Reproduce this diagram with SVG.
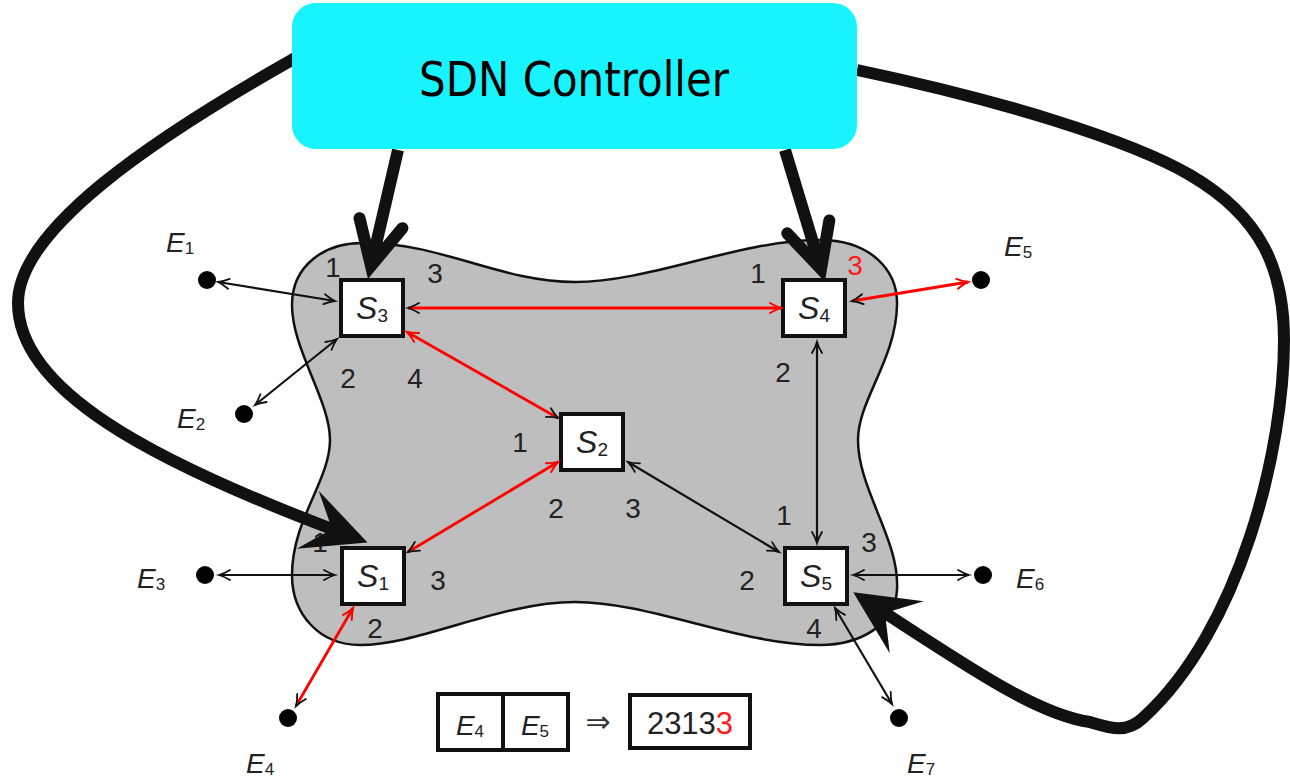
<svg xmlns="http://www.w3.org/2000/svg" width="1290" height="777" viewBox="0 0 1290 777">
  <style>
    .cloud { fill: #bebebe; stroke: #111; stroke-width: 2.5; }
    .sw { fill: #fff; stroke: #111; stroke-width: 4; }
    .lbl { font-family: "Liberation Sans", Arial, sans-serif; fill: #222; }
    .it { font-style: italic; }
    .sub { font-style: normal; }
    .port { font-family: "Liberation Sans", Arial, sans-serif; font-size: 28px; fill: #222; text-anchor: middle; }
    .red { fill: #ff1a1a; }
    .dot { fill: #000; }
    .lk { fill: none; stroke: #111; stroke-width: 2.2; }
    .lr { fill: none; stroke: #ff0000; stroke-width: 2.8; }
    .ctl { fill: none; stroke: #111; stroke-width: 12; }
    .flow { fill: #fff; stroke: #111; stroke-width: 4; }
  </style>
  <defs>
    <marker id="hk" markerUnits="userSpaceOnUse" viewBox="-14 -8 16 16" markerWidth="16" markerHeight="16" refX="0" refY="0" orient="auto-start-reverse" overflow="visible">
      <path d="M -11 -5 Q -4.5 -1.2 0 0 Q -4.5 1.2 -11 5" fill="none" stroke="#111" stroke-width="1.8" stroke-linecap="round"/>
    </marker>
    <marker id="hr" markerUnits="userSpaceOnUse" viewBox="-14 -8 16 16" markerWidth="16" markerHeight="16" refX="0" refY="0" orient="auto-start-reverse" overflow="visible">
      <path d="M -11 -5 Q -4.5 -1.2 0 0 Q -4.5 1.2 -11 5" fill="none" stroke="#ff0000" stroke-width="2" stroke-linecap="round"/>
    </marker>
    <!-- open V head for the short controller links -->
    <marker id="vhead" markerUnits="userSpaceOnUse" viewBox="-60 -40 80 80" markerWidth="80" markerHeight="80" refX="0" refY="0" orient="auto" overflow="visible">
      <path d="M -44 -22 L 0 0 L -44 22" fill="none" stroke="#111" stroke-width="12" stroke-linecap="round" stroke-linejoin="miter"/>
    </marker>
    <!-- filled stealth head for the long controller links -->
    <marker id="shead" markerUnits="userSpaceOnUse" viewBox="-40 -40 90 80" markerWidth="90" markerHeight="80" refX="0" refY="0" orient="auto" overflow="visible">
      <path d="M 38 0 L -26 -31 L 0 0 L -26 31 Z" fill="#111"/>
    </marker>
  </defs>

  <!-- network domain -->
  <path id="domain" class="cloud" d="M 362 243 C 440 242, 500 282, 575 282 C 650 282, 740 240, 820 240 C 870 240, 898 270, 897 305 C 896 360, 858 400, 858 440 C 858 490, 900 540, 897 590 C 895 625, 860 645, 820 645 C 740 645, 650 602, 575 602 C 500 602, 420 645, 360 645 C 320 645, 292 615, 292 575 C 292 520, 330 480, 330 440 C 330 400, 292 350, 292 305 C 292 265, 325 243, 362 243 Z"/>

  <!-- switches -->
  <g id="S3">
    <rect class="sw" x="341" y="280" width="62" height="56"/>
    <text class="lbl" x="372" y="319" text-anchor="middle" font-size="32"><tspan class="it">S</tspan><tspan class="sub" font-size="19" dy="3">3</tspan></text>
    <text class="port" x="333" y="277">1</text>
    <text class="port" x="435" y="283">3</text>
    <text class="port" x="348" y="388">2</text>
    <text class="port" x="415" y="388">4</text>
  </g>
  <g id="S4">
    <rect class="sw" x="783" y="280" width="62" height="56"/>
    <text class="lbl" x="814" y="319" text-anchor="middle" font-size="32"><tspan class="it">S</tspan><tspan class="sub" font-size="19" dy="3">4</tspan></text>
    <text class="port" x="758" y="283">1</text>
    <text class="port red" x="855" y="275">3</text>
    <text class="port" x="783" y="382">2</text>
  </g>
  <g id="S2">
    <rect class="sw" x="561" y="414" width="62" height="56"/>
    <text class="lbl" x="592" y="453" text-anchor="middle" font-size="32"><tspan class="it">S</tspan><tspan class="sub" font-size="19" dy="3">2</tspan></text>
    <text class="port" x="520" y="452">1</text>
    <text class="port" x="556" y="518">2</text>
    <text class="port" x="633" y="518">3</text>
  </g>
  <g id="S1">
    <rect class="sw" x="342" y="548" width="62" height="56"/>
    <text class="lbl" x="373" y="587" text-anchor="middle" font-size="32"><tspan class="it">S</tspan><tspan class="sub" font-size="19" dy="3">1</tspan></text>
    <text class="port" x="320" y="552">1</text>
    <text class="port" x="438" y="590">3</text>
    <text class="port" x="375" y="638">2</text>
  </g>
  <g id="S5">
    <rect class="sw" x="785" y="548" width="62" height="56"/>
    <text class="lbl" x="816" y="587" text-anchor="middle" font-size="32"><tspan class="it">S</tspan><tspan class="sub" font-size="19" dy="3">5</tspan></text>
    <text class="port" x="784" y="525">1</text>
    <text class="port" x="869" y="552">3</text>
    <text class="port" x="747" y="590">2</text>
    <text class="port" x="814" y="638">4</text>
  </g>

  <!-- end hosts -->
  <g id="E1">
    <circle class="dot" cx="207" cy="280" r="9"/>
    <text class="lbl" x="166" y="252" font-size="28"><tspan class="it">E</tspan><tspan class="sub" font-size="17" dy="2">1</tspan></text>
  </g>
  <g id="E2">
    <circle class="dot" cx="244" cy="414" r="9"/>
    <text class="lbl" x="177" y="428" font-size="28"><tspan class="it">E</tspan><tspan class="sub" font-size="17" dy="2">2</tspan></text>
  </g>
  <g id="E3">
    <circle class="dot" cx="205" cy="575" r="9"/>
    <text class="lbl" x="137" y="588" font-size="28"><tspan class="it">E</tspan><tspan class="sub" font-size="17" dy="2">3</tspan></text>
  </g>
  <g id="E4">
    <circle class="dot" cx="288" cy="718" r="9"/>
    <text class="lbl" x="246" y="773" font-size="28"><tspan class="it">E</tspan><tspan class="sub" font-size="17" dy="2">4</tspan></text>
  </g>
  <g id="E5">
    <circle class="dot" cx="981" cy="280" r="9"/>
    <text class="lbl" x="1004" y="256" font-size="28"><tspan class="it">E</tspan><tspan class="sub" font-size="17" dy="2">5</tspan></text>
  </g>
  <g id="E6">
    <circle class="dot" cx="983" cy="575" r="9"/>
    <text class="lbl" x="1016" y="588" font-size="28"><tspan class="it">E</tspan><tspan class="sub" font-size="17" dy="2">6</tspan></text>
  </g>
  <g id="E7">
    <circle class="dot" cx="899" cy="718" r="9"/>
    <text class="lbl" x="907" y="773" font-size="28"><tspan class="it">E</tspan><tspan class="sub" font-size="17" dy="2">7</tspan></text>
  </g>

  <!-- flow entry: (E4, E5) maps to port list 23133 -->
  <g id="flow-entry">
    <rect class="flow" x="438" y="694" width="130" height="56"/>
    <line x1="503" y1="694" x2="503" y2="750" stroke="#111" stroke-width="4"/>
    <text class="lbl" x="470" y="735" text-anchor="middle" font-size="28"><tspan class="it">E</tspan><tspan class="sub" font-size="17" dy="2">4</tspan></text>
    <text class="lbl" x="535" y="735" text-anchor="middle" font-size="28"><tspan class="it">E</tspan><tspan class="sub" font-size="17" dy="2">5</tspan></text>
    <text x="598" y="732" text-anchor="middle" font-family="DejaVu Sans, sans-serif" font-size="30" fill="#333">⇒</text>
    <rect class="flow" x="630" y="695" width="120" height="53"/>
    <text class="lbl" x="690" y="734" text-anchor="middle" font-size="31">2313<tspan class="red">3</tspan></text>
  </g>

  <!-- links -->
  <g id="connectors">
    <line class="lk" x1="218" y1="282" x2="335" y2="301" marker-start="url(#hk)" marker-end="url(#hk)"/>
    <line class="lk" x1="255" y1="405" x2="337" y2="339" marker-start="url(#hk)" marker-end="url(#hk)"/>
    <line class="lr" x1="408" y1="308" x2="781" y2="308" marker-start="url(#hk)" marker-end="url(#hr)"/>
    <line class="lr" x1="558" y1="418" x2="407" y2="332" marker-start="url(#hk)" marker-end="url(#hr)"/>
    <line class="lr" x1="408" y1="552" x2="558" y2="462" marker-start="url(#hk)" marker-end="url(#hr)"/>
    <line class="lr" x1="852" y1="301" x2="968" y2="282" marker-start="url(#hk)" marker-end="url(#hr)"/>
    <line class="lr" x1="296" y1="706" x2="353" y2="608" marker-start="url(#hk)" marker-end="url(#hr)"/>
    <line class="lk" x1="628" y1="462" x2="779" y2="552" marker-start="url(#hk)" marker-end="url(#hk)"/>
    <line class="lk" x1="817" y1="342" x2="817" y2="543" marker-start="url(#hk)" marker-end="url(#hk)"/>
    <line class="lk" x1="219" y1="575" x2="335" y2="575" marker-start="url(#hk)" marker-end="url(#hk)"/>
    <line class="lk" x1="853" y1="575" x2="969" y2="575" marker-start="url(#hk)" marker-end="url(#hk)"/>
    <line class="lk" x1="835" y1="608" x2="892" y2="704" marker-start="url(#hk)" marker-end="url(#hk)"/>

    <!-- control channels -->
    <line class="ctl" x1="398" y1="150" x2="371" y2="266" marker-end="url(#vhead)"/>
    <line class="ctl" x1="785" y1="150" x2="821" y2="269" marker-end="url(#vhead)"/>
    <path class="ctl" d="M 297 57 C 150 140, 18 230, 18 303 C 18 390, 150 460, 332 529" marker-end="url(#shead)"/>
    <path class="ctl" d="M 857 70 C 1000 100, 1130 140, 1190 175 C 1262 217, 1284 270, 1284 340 C 1284 450, 1240 630, 1143 718 C 1126 734, 1110 728, 1090 722 C 1040 715, 975 672, 885 613" marker-end="url(#shead)"/>
  </g>

  <!-- controller -->
  <g id="controller">
    <rect x="292" y="3" width="565" height="146" rx="24" fill="#18f4ff"/>
    <text x="574" y="96" text-anchor="middle" font-family="DejaVu Sans, Verdana, sans-serif" font-size="48" textLength="310" lengthAdjust="spacingAndGlyphs" fill="#000">SDN Controller</text>
  </g>
</svg>
